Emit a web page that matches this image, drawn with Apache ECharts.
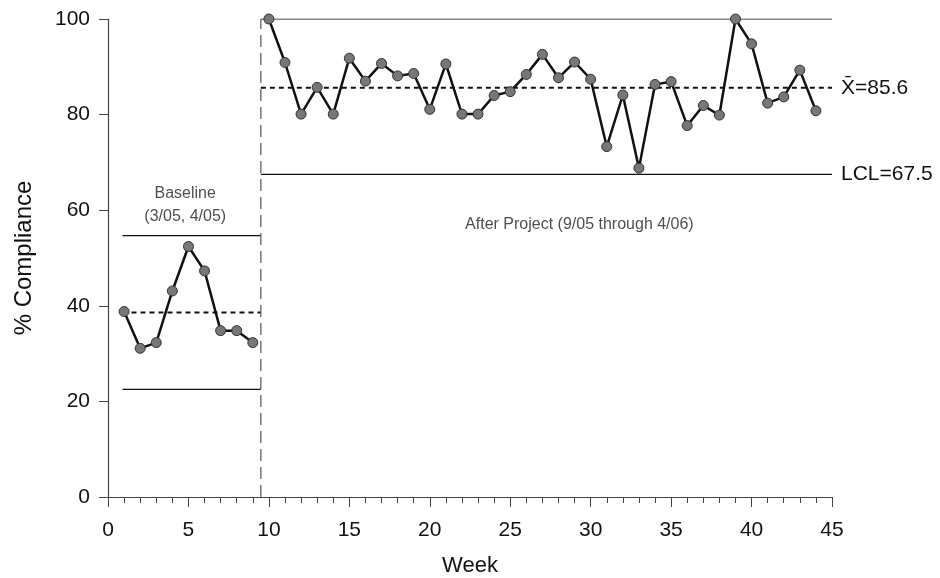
<!DOCTYPE html>
<html><head><meta charset="utf-8">
<script src="https://cdn.jsdelivr.net/npm/echarts@6/dist/echarts.min.js"></script>
<style>html,body{margin:0;padding:0;background:#fff}#c{width:940px;height:578px}</style>
</head><body><div id="c"></div>
<script>
// ---- data ----
const baselineWeeks = [1,2,3,4,5,6,7,8,9];
const baselineValues = [38.8,31.1,32.3,43.1,52.4,47.3,34.8,34.8,32.3];
const afterWeeks = [10,11,12,13,14,15,16,17,18,19,20,21,22,23,24,25,26,27,28,29,30,31,32,33,34,35,36,37,38,39,40,41,42,43,44];
const afterValues = [100,90.9,80.1,85.7,80.1,91.8,87.0,90.7,88.1,88.6,81.1,90.6,80.1,80.1,84.0,84.8,88.4,92.6,87.7,91.0,87.4,73.3,84.1,68.8,86.3,86.9,77.7,81.9,79.9,100,94.8,82.4,83.7,89.3,80.8];
const baselineSpan = [0.9, 9.5];
const baselineUCL = 54.7, baselineMean = 38.6, baselineLCL = 22.5;
const afterSpan = [9.5, 45];
const afterUCL = 100, afterMean = 85.6, afterLCL = 67.5;
const phaseBreak = 9.5;
const xTicks = {min:0, max:45, interval:5};
const yTicks = {min:0, max:100, interval:20};
const baselineNote = {x:4.8, y:61.0, text:'Baseline\n(3/05, 4/05)'};
const afterNote = {x:29.3, y:56.9, text:'After Project (9/05 through 4/06)'};

const FONT = '"Liberation Sans", Arial, Helvetica, sans-serif';
const zip = (xs, ys) => xs.map((x,i)=>[x, ys[i]]);
const hline = (span, v) => [[span[0], v],[span[1], v]];

function limitLine(data, dashed, width, labelText){
  return {
    type:'line', data, symbol:'none', silent:true, z:2,
    lineStyle:{color:'#111', width, type: dashed ? [5,4] : 'solid'},
    endLabel: labelText ? {show:true, formatter:labelText, fontFamily:FONT, fontSize:21, color:'#111', distance:9} : {show:false},
    animation:false
  };
}
function pointSeries(data){
  return {
    type:'line', data, symbol:'circle', symbolSize:10, z:5,
    lineStyle:{color:'#111', width:2.5},
    itemStyle:{color:'#777', borderColor:'#333', borderWidth:1},
    animation:false
  };
}
function note(n){
  return {
    type:'scatter', data:[[n.x, n.y]], symbolSize:0, silent:true,
    label:{show:true, position:'inside', formatter:n.text, fontFamily:FONT, fontSize:16, color:'#222', lineHeight:23},
    animation:false
  };
}

const chart = echarts.init(document.getElementById('c'), null, {renderer:'canvas'});
chart.setOption({
  backgroundColor:'#fff',
  grid:{left:108, right:108, top:19, bottom:81, containLabel:false, outerBoundsMode:'none'},
  xAxis:{
    type:'value', min:xTicks.min, max:xTicks.max, interval:xTicks.interval,
    name:'Week', nameLocation:'middle', nameGap:58,
    nameTextStyle:{fontFamily:FONT, fontSize:22, color:'#111'},
    axisLine:{show:true, lineStyle:{color:'#444', width:1.2}},
    axisTick:{show:true, length:10, lineStyle:{color:'#444'}},
    minorTick:{show:true, splitNumber:5, length:6, lineStyle:{color:'#444'}},
    axisLabel:{fontFamily:FONT, fontSize:21, color:'#111', margin:23},
    splitLine:{show:false}
  },
  yAxis:{
    type:'value', min:yTicks.min, max:yTicks.max, interval:yTicks.interval,
    name:'% Compliance', nameLocation:'middle', nameGap:72,
    nameTextStyle:{fontFamily:FONT, fontSize:24, color:'#111'},
    axisLine:{show:true, lineStyle:{color:'#444', width:1.2}},
    axisTick:{show:true, length:9, lineStyle:{color:'#444'}},
    axisLabel:{fontFamily:FONT, fontSize:21, color:'#111', margin:18},
    splitLine:{show:false}
  },
  series:[
    limitLine(hline(baselineSpan, baselineUCL), false, 1.2),
    limitLine(hline(baselineSpan, baselineMean), true, 2),
    limitLine(hline(baselineSpan, baselineLCL), false, 1.2),
    limitLine(hline(afterSpan, afterUCL), false, 1.2),
    limitLine(hline(afterSpan, afterMean), true, 2, 'X\u0304=' + afterMean),
    limitLine(hline(afterSpan, afterLCL), false, 1.2, 'LCL=' + afterLCL),
    {
      type:'line', data:[[phaseBreak, yTicks.min],[phaseBreak, yTicks.max]], symbol:'none', silent:true,
      lineStyle:{color:'#555', width:1.2, type:[12,6]}, animation:false
    },
    pointSeries(zip(baselineWeeks, baselineValues)),
    pointSeries(zip(afterWeeks, afterValues)),
    note(baselineNote),
    note(afterNote)
  ]
});
</script></body></html>
